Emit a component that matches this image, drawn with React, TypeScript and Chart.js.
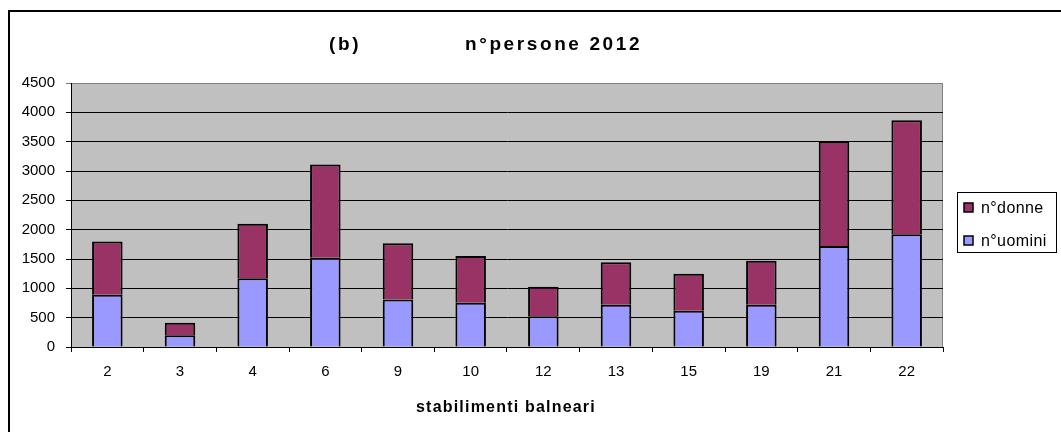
import React, { useEffect, useRef } from "react";
import { Chart, registerables } from "chart.js";

Chart.register(...registerables);

const categories = ["2", "3", "4", "6", "9", "10", "12", "13", "15", "19", "21", "22"];
const uomini = [890, 200, 1170, 1520, 810, 755, 525, 720, 620, 720, 1720, 1920];
const donne = [910, 215, 930, 1590, 960, 795, 500, 725, 630, 750, 1790, 1945];
const seriesLabels = ["n°uomini", "n°donne"];
const titleTag = "(b)";
const titleText = "n°persone 2012";
const xAxisTitle = "stabilimenti balneari";

const FONT = "'Liberation Sans', Arial, sans-serif";
const COL_U = "#9999FF";
const COL_D = "#993366";

const decorPlugin = {
  id: "decor",
  beforeDraw(chart: any) {
    const { ctx, chartArea } = chart;
    ctx.save();
    ctx.fillStyle = "#ffffff";
    ctx.fillRect(0, 0, chart.width, chart.height);
    ctx.fillStyle = "#C0C0C0";
    ctx.fillRect(chartArea.left, chartArea.top, chartArea.right - chartArea.left, chartArea.bottom - chartArea.top);
    ctx.strokeStyle = "#808080";
    ctx.lineWidth = 1;
    ctx.strokeRect(chartArea.left + 0.5, chartArea.top + 0.5, chartArea.right - chartArea.left - 1, chartArea.bottom - chartArea.top);
    ctx.restore();
  },
  afterDraw(chart: any) {
    const { ctx } = chart;
    ctx.save();
    // outer border
    ctx.strokeStyle = "#000";
    ctx.lineWidth = 2;
    ctx.strokeRect(9, 11, 3000, 3000);
    // title
    ctx.fillStyle = "#000";
    ctx.textBaseline = "alphabetic";
    ctx.textAlign = "left";
    ctx.font = `bold 19px ${FONT}`;
    (ctx as any).letterSpacing = "2.6px";
    ctx.fillText(titleTag, 329, 50);
    ctx.fillText(titleText, 465, 50);
    // axis title
    ctx.font = `bold 16px ${FONT}`;
    (ctx as any).letterSpacing = "1.2px";
    ctx.fillText(xAxisTitle, 416, 412);
    (ctx as any).letterSpacing = "0px";
    // legend
    const lx = 957, ly = 192, lw = 99, lh = 60;
    ctx.fillStyle = "#fff";
    ctx.fillRect(lx, ly, lw, lh);
    ctx.strokeStyle = "#000";
    ctx.lineWidth = 1;
    ctx.strokeRect(lx + 0.5, ly + 0.5, lw, lh);
    const items = [
      { label: seriesLabels[1], color: COL_D, y: 207.5 },
      { label: seriesLabels[0], color: COL_U, y: 240.5 },
    ];
    ctx.font = `16px ${FONT}`;
    ctx.textBaseline = "middle";
    for (const it of items) {
      ctx.fillStyle = it.color;
      ctx.fillRect(964, it.y - 4.5, 9, 9);
      ctx.strokeStyle = "#000";
      ctx.lineWidth = 1.5;
      ctx.strokeRect(964, it.y - 4.5, 9, 9);
      ctx.fillStyle = "#000";
      (ctx as any).letterSpacing = "0.4px";
      ctx.fillText(it.label, 981, it.y + 1);
    }
    ctx.restore();
  },
};

export default function App() {
  const ref = useRef<HTMLCanvasElement>(null);
  useEffect(() => {
    const chart = new Chart(ref.current as HTMLCanvasElement, {
      type: "bar",
      data: {
        labels: categories,
        datasets: [
          {
            label: seriesLabels[0],
            data: uomini,
            backgroundColor: COL_U,
            borderColor: "#000",
            borderWidth: 2,
            barPercentage: 0.42,
            categoryPercentage: 1,
          },
          {
            label: seriesLabels[1],
            data: donne,
            backgroundColor: COL_D,
            borderColor: "#000",
            borderWidth: 2,
            barPercentage: 0.42,
            categoryPercentage: 1,
          },
        ],
      },
      options: {
        animation: false,
        responsive: false,
        maintainAspectRatio: false,
        layout: { padding: { left: 0, top: 83, right: 118, bottom: 0 } },
        plugins: {
          legend: { display: false },
          title: { display: false },
          tooltip: { enabled: false },
        },
        scales: {
          x: {
            stacked: true,
            offset: true,
            grid: {
              offset: true,
              drawOnChartArea: false,
              drawTicks: true,
              tickLength: 5,
              color: "#000",
            },
            border: { display: true, color: "#000", width: 1 },
            ticks: {
              color: "#000",
              font: { family: FONT, size: 15 },
              padding: 11,
              maxRotation: 0,
              autoSkip: false,
            },
            afterFit(scale: any) {
              scale.height = 85;
            },
          },
          y: {
            stacked: true,
            min: 0,
            max: 4500,
            ticks: {
              stepSize: 500,
              color: "#000",
              font: { family: FONT, size: 15 },
              padding: 11,
              callback: (v: any) => String(v),
            },
            grid: {
              color: (c: any) => (c.tick && c.tick.value === 4500 ? "#808080" : "#000"),
              tickLength: 5,
              drawTicks: true,
            },
            border: { display: true, color: "#000", width: 1 },
            afterFit(scale: any) {
              scale.width = 71;
            },
          },
        },
      },
      plugins: [decorPlugin],
    });
    return () => chart.destroy();
  }, []);
  return (
    <div style={{ position: "absolute", left: 0, top: 0, width: 1061, height: 432 }}>
      <canvas ref={ref} width={1061} height={432} style={{ display: "block" }} />
    </div>
  );
}
